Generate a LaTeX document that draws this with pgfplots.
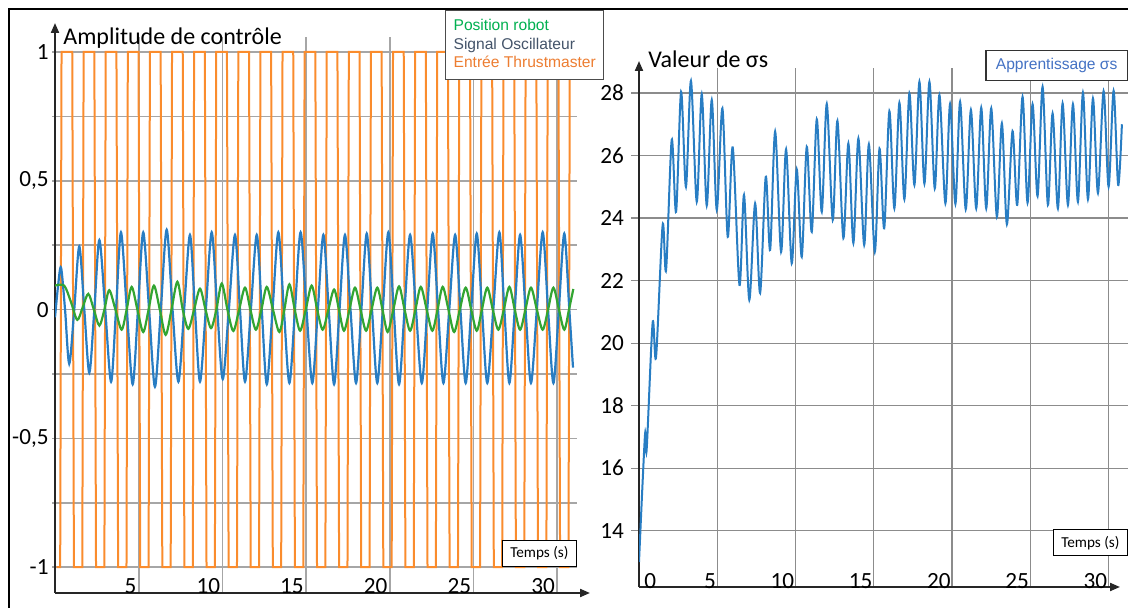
\documentclass[border=0pt]{standalone}
\usepackage{fontspec}
\setmainfont{Carlito}
\newfontfamily\arialfont{Liberation Sans}
\usepackage{pgfplots}
\pgfplotsset{compat=1.18}
\usetikzlibrary{arrows.meta}

\definecolor{cOrange}{RGB}{250,140,45}
\definecolor{cBlue}{RGB}{40,125,195}
\definecolor{cGreen}{RGB}{50,165,50}
\definecolor{tGreen}{RGB}{0,176,80}
\definecolor{tSlate}{RGB}{68,84,106}
\definecolor{tOrange}{RGB}{237,125,49}
\definecolor{tBlue}{RGB}{68,114,196}

\begin{document}
\begin{tikzpicture}
\useasboundingbox (0,0) rectangle (564pt,304pt);
\draw[line width=1.25pt] (4.5pt,0) -- (4.5pt,299.5pt) -- (564pt,299.5pt);

% left panel: control amplitude
\begin{axis}[
  at={(27.5pt,7.5pt)}, anchor=south west,
  scale only axis, width=261pt, height=278pt,
  xmin=0, xmax=31.18, ymin=-1.1, ymax=1.058,
  axis lines=left,
  axis line style={line width=1pt, black!85, -{Triangle[length=5pt,width=4pt]}},
  x axis line style={shorten >=-6.5pt},
  y axis line style={shorten >=-7pt},
  grid=major, major grid style={black!35, line width=0.8pt},
  xtick={5,10,...,30}, xticklabels={5,10,15,20,25,30},
  ytick={-1,-0.75,-0.5,-0.25,0,0.25,0.5,0.75,1},
  yticklabels={-1,,{-0,5},,0,,{0,5},,1},
  xtick style={draw=none},
  ytick style={black!35, line width=0.8pt},
  major tick length=1.5pt, tick align=outside,
  tick label style={font=\fontsize{11.6}{12}\selectfont},
  xticklabel style={anchor=south east, inner sep=1pt},
  yticklabel style={inner xsep=1.5pt},
  xlabel={Temps (s)},
  xlabel style={at={(axis description cs:1,0.047)}, anchor=south east,
    draw=black, fill=white, line width=0.5pt, inner xsep=4pt, inner ysep=3pt,
    font=\fontsize{7.6}{8}\selectfont},
  legend style={at={(0.7471,1.0486)}, anchor=north west, draw=black!70,
    line width=0.6pt, fill=white, font=\arialfont\fontsize{7.8}{9}\selectfont,
    inner xsep=2pt, inner ysep=2.5pt, row sep=-2pt},
  legend cell align=left,
  legend image code/.code={},
  reverse legend,
]
\addplot[cOrange, line width=1pt] coordinates {
(0.1,-1) (0.31,-1) (0.39,1) (1.03,1)
(1.13,-1) (1.63,-1) (1.71,1) (2.35,1)
(2.45,-1) (2.95,-1) (3.03,1) (3.67,1)
(3.77,-1) (4.27,-1) (4.35,1) (4.99,1)
(5.09,-1) (5.59,-1) (5.67,1) (6.31,1)
(6.41,-1) (6.91,-1) (6.99,1) (7.63,1)
(7.73,-1) (8.23,-1) (8.31,1) (8.95,1)
(9.05,-1) (9.55,-1) (9.63,1) (10.27,1)
(10.37,-1) (10.87,-1) (10.95,1) (11.59,1)
(11.69,-1) (12.19,-1) (12.27,1) (12.91,1)
(13.01,-1) (13.51,-1) (13.59,1) (14.23,1)
(14.33,-1) (14.83,-1) (14.91,1) (15.55,1)
(15.65,-1) (16.15,-1) (16.23,1) (16.87,1)
(16.97,-1) (17.47,-1) (17.55,1) (18.19,1)
(18.29,-1) (18.79,-1) (18.87,1) (19.51,1)
(19.61,-1) (20.11,-1) (20.19,1) (20.83,1)
(20.93,-1) (21.43,-1) (21.51,1) (22.15,1)
(22.25,-1) (22.75,-1) (22.83,1) (23.47,1)
(23.57,-1) (24.07,-1) (24.15,1) (24.79,1)
(24.89,-1) (25.39,-1) (25.47,1) (26.11,1)
(26.21,-1) (26.71,-1) (26.79,1) (27.43,1)
(27.53,-1) (28.03,-1) (28.11,1) (28.75,1)
(28.85,-1) (29.35,-1) (29.43,1) (30.07,1)
(30.17,-1) (30.67,-1) (30.75,1) (30.9,1)
};
\addlegendentry{\textcolor{tOrange}{Entrée Thrustmaster}}
\addplot[cBlue, line width=1.1pt, smooth] coordinates {
(0,-0.03) (0.18,0.09) (0.36,0.163) (0.6,0) (0.85,-0.21) (1.15,0) (1.45,0.245)
(1.75,0) (2.05,-0.245) (2.35,0) (2.65,0.27) (3.0,0) (3.35,-0.28) (3.645,0)
(3.94,0.30) (4.29,0) (4.64,-0.29) (4.955,0) (5.27,0.30) (5.62,0) (5.97,-0.30)
(6.32,0) (6.67,0.31) (7.02,0) (7.37,-0.28) (7.715,0) (8.06,0.29) (8.36,0)
(8.66,-0.28) (9.01,0) (9.36,0.30) (9.69,0) (10.02,-0.27) (10.385,0) (10.75,0.29)
(11.05,0) (11.35,-0.28) (11.7,0) (12.05,0.29) (12.35,0) (12.65,-0.29) (12.995,0)
(13.34,0.30) (13.67,0) (14.0,-0.285) (14.335,0) (14.67,0.30) (15.02,0) (15.37,-0.285)
(15.7,0) (16.03,0.29) (16.35,0) (16.67,-0.29) (16.995,0) (17.32,0.29) (17.65,0)
(17.98,-0.285) (18.3,0) (18.62,0.295) (18.935,0) (19.25,-0.285) (19.58,0) (19.91,0.30)
(20.23,0) (20.55,-0.29) (20.88,0) (21.21,0.29) (21.56,0) (21.91,-0.285) (22.235,0)
(22.56,0.295) (22.88,0) (23.2,-0.285) (23.55,0) (23.9,0.29) (24.215,0) (24.53,-0.285)
(24.86,0) (25.19,0.295) (25.505,0) (25.82,-0.285) (26.18,0) (26.54,0.30) (26.84,0)
(27.14,-0.285) (27.46,0) (27.78,0.29) (28.105,0) (28.43,-0.285) (28.78,0) (29.13,0.30)
(29.45,0) (29.77,-0.285) (30.095,0) (30.42,0.295) (30.72,0) (30.94,-0.225)
};
\addlegendentry{\textcolor{tSlate}{Signal Oscillateur}}
\addplot[cGreen, line width=1.1pt, smooth] coordinates {
(0,0.093) (0.55,0.093) (0.95,0.03) (1.33,-0.04) (1.66,0.01) (1.99,0.061) (2.32,0)
(2.65,-0.062) (2.95,0) (3.24,0.075) (3.61,0) (3.98,-0.078) (4.28,0) (4.58,0.088)
(4.92,0) (5.27,-0.087) (5.59,0) (5.91,0.093) (6.26,0) (6.61,-0.098) (6.96,0)
(7.31,0.108) (7.63,0) (7.96,-0.075) (8.31,0) (8.66,0.081) (8.99,0) (9.32,-0.072)
(9.64,0) (9.96,0.101) (10.3,0) (10.65,-0.083) (11.0,0) (11.35,0.085) (11.67,0)
(12.0,-0.078) (12.33,0) (12.65,0.088) (13.02,0) (13.4,-0.087) (13.7,0) (14.0,0.098)
(14.32,0) (14.64,-0.082) (14.98,0) (15.33,0.093) (15.66,0) (15.99,-0.078) (16.33,0)
(16.67,0.078) (16.96,0) (17.26,-0.082) (17.59,0) (17.92,0.085) (18.25,0) (18.58,-0.082)
(18.91,0) (19.25,0.085) (19.56,0) (19.87,-0.087) (20.21,0) (20.55,0.09) (20.88,0)
(21.21,-0.082) (21.53,0) (21.85,0.088) (22.2,0) (22.54,-0.082) (22.85,0) (23.16,0.088)
(23.5,0) (23.84,-0.087) (24.18,0) (24.53,0.085) (24.86,0) (25.19,-0.082) (25.5,0)
(25.82,0.085) (26.15,0) (26.48,-0.078) (26.81,0) (27.14,0.088) (27.46,0) (27.78,-0.078)
(28.1,0) (28.43,0.085) (28.78,0) (29.13,-0.078) (29.45,0) (29.77,0.085) (30.1,0)
(30.42,-0.078) (30.7,0) (30.96,0.08)
};
\addlegendentry{\textcolor{tGreen}{Position robot}}
\end{axis}

% right panel: learned sigma
\begin{axis}[
  at={(319.5pt,10.5pt)}, anchor=south west,
  scale only axis, width=244.5pt, height=259.5pt,
  xmin=0, xmax=31.25, ymin=12.2, ymax=28.8,
  axis lines=left,
  axis line style={line width=1pt, black!85, -{Triangle[length=5pt,width=4pt]}},
  x axis line style={shorten >=4pt},
  y axis line style={shorten >=-3.5pt},
  grid=major, major grid style={black!45, line width=0.6pt},
  xtick={5,10,...,30}, xticklabels={5,10,15,20,25,30},
  extra x ticks={0}, extra x tick labels={0},
  extra x tick style={grid=none, xticklabel style={anchor=south west, xshift=2pt}},
  ytick={14,16,...,28}, yticklabels={14,16,18,20,22,24,26,28},
  xtick style={draw=none},
  ytick style={black!45, line width=0.6pt},
  major tick length=4pt, tick align=outside,
  tick label style={font=\fontsize{11.6}{12}\selectfont},
  xticklabel style={anchor=south east, inner xsep=0.5pt, inner ysep=3pt},
  xlabel={Temps (s)},
  xlabel style={at={(axis description cs:1,0.0597)}, anchor=south east,
    draw=black, fill=white, line width=0.5pt, inner xsep=4pt, inner ysep=3pt,
    font=\fontsize{7.6}{8}\selectfont},
  legend style={at={(1,1.0347)}, anchor=north east, draw=black!80,
    line width=0.6pt, fill=white, font=\arialfont\fontsize{7.8}{9}\selectfont,
    inner xsep=3pt, inner ysep=2pt},
  legend image code/.code={},
]
\addplot[cBlue, line width=1pt, smooth] coordinates {
(0,13.0) (0.38,17.05) (0.49,16.6) (0.87,20.65) (1.09,19.56) (1.51,23.78) (1.73,22.34)
(2.09,26.5) (2.37,24.2) (2.69,28.04) (3.0,25.0) (3.32,28.39) (3.69,24.52) (4.01,27.96)
(4.33,24.4) (4.65,27.78) (4.97,24.26) (5.33,27.51) (5.67,23.4) (5.99,26.26) (6.42,21.86)
(6.71,24.74) (7.05,21.38) (7.42,24.47) (7.74,21.6) (8.1,25.32) (8.38,22.98) (8.7,26.77)
(9.08,22.92) (9.4,26.2) (9.76,22.55) (10.08,25.56) (10.4,22.76) (10.72,26.28) (11.04,23.56)
(11.36,27.16) (11.68,24.2) (12.0,27.65) (12.38,23.94) (12.68,27.11) (13.06,23.36) (13.38,26.39)
(13.7,23.2) (14.02,26.55) (14.39,23.14) (14.69,26.36) (15.07,22.92) (15.37,26.22) (15.67,23.67)
(16.0,27.42) (16.32,24.31) (16.64,27.69) (16.96,24.6) (17.28,27.99) (17.6,25.06) (17.92,28.36)
(18.24,25.1) (18.56,28.36) (18.9,24.95) (19.2,27.94) (19.58,24.47) (19.88,27.65) (20.22,24.45)
(20.52,27.72) (20.88,24.28) (21.21,27.46) (21.55,24.31) (21.87,27.53) (22.19,24.31) (22.51,27.51)
(22.87,24.04) (23.19,27.03) (23.51,23.8) (23.87,26.78) (24.17,24.42) (24.51,27.88) (24.83,24.49)
(25.15,27.64) (25.47,24.7) (25.79,28.2) (26.13,24.42) (26.43,27.35) (26.77,24.31) (27.07,27.67)
(27.41,24.42) (27.73,27.64) (28.05,24.52) (28.37,28.01) (28.69,24.6) (29.01,27.83) (29.33,24.8)
(29.69,28.06) (30.01,25.0) (30.33,28.07) (30.62,25.06) (30.86,27.0)
};
\addlegendentry{\textcolor{tBlue}{Apprentissage σs}}
\end{axis}

\node[anchor=west, inner sep=0, font=\fontsize{12}{12}\selectfont] at (31.5pt,285pt) {Amplitude de contrôle};
\node[anchor=west, inner sep=0, font=\fontsize{12}{12}\selectfont] at (324pt,274.5pt) {Valeur de σs};
\end{tikzpicture}
\end{document}
